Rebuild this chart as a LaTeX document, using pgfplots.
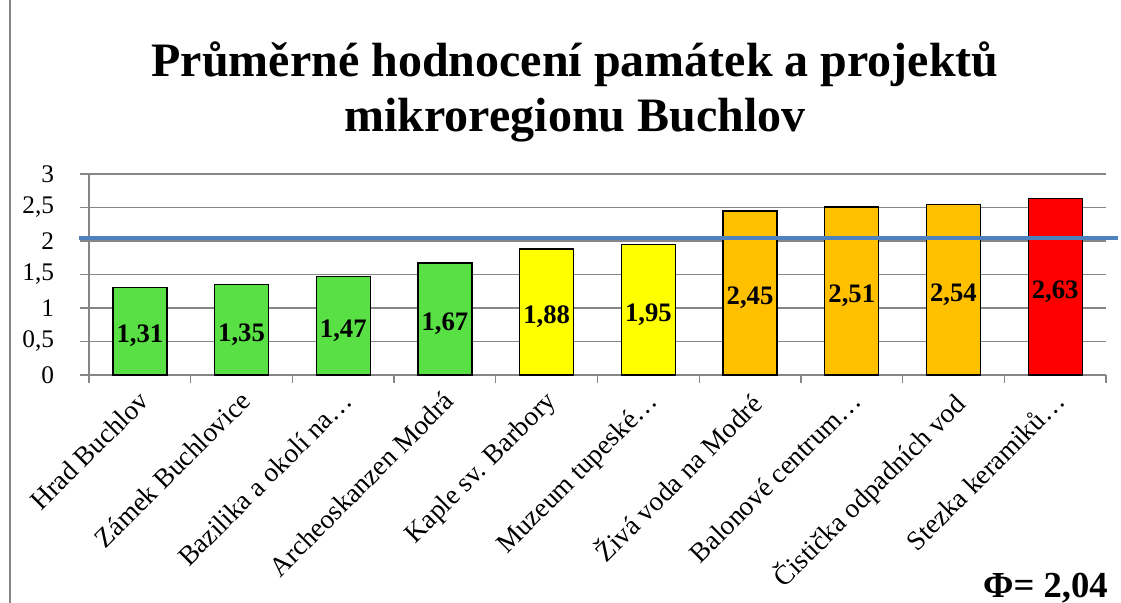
\documentclass[border=0pt]{standalone}
\usepackage{pgfplots}
\pgfplotsset{compat=1.18}
\usepackage{pgfplotstable}
\usepackage{fontspec}
\setmainfont{Liberation Serif}
\definecolor{cgreen}{RGB}{88,224,68}
\definecolor{cyellow}{RGB}{255,255,0}
\definecolor{corange}{RGB}{255,192,0}
\definecolor{cred}{RGB}{255,0,0}
\definecolor{cblue}{RGB}{79,129,189}
\definecolor{cgrid}{RGB}{134,134,134}

\pgfplotstableread{
x v
0 1.31
1 1.35
2 1.47
3 1.67
}\tgreen
\pgfplotstableread{
x v
4 1.88
5 1.95
}\tyellow
\pgfplotstableread{
x v
6 2.45
7 2.51
8 2.54
}\torange
\pgfplotstableread{
x v
9 2.63
}\tred

\begin{document}
\begin{tikzpicture}
\begin{axis}[
  scale only axis,
  width=762.75pt, height=150.75pt,
  at={(0,0)}, anchor=south west,
  xmin=-0.5, xmax=9.5,
  ymin=0, ymax=3,
  ytick={0,0.5,...,3},
  yticklabels={0,{0,5},1,{1,5},2,{2,5},3},
  ymajorgrids=true,
  grid style={cgrid, line width=1pt},
  axis x line=bottom, axis y line=left,
  axis line style={-, cgrid, line width=1pt},
  tick style={cgrid, line width=1pt},
  tick align=outside,
  major tick length=7pt,
  minor tick length=6pt,
  xtick={0,...,9},
  major x tick style={draw=none},
  minor xtick={-0.5,0.5,...,9.5},
  xticklabels={Hrad Buchlov, Zámek Buchlovice, Bazilika a okolí na…, Archeoskanzen Modrá, Kaple sv. Barbory, Muzeum tupeské…, Živá voda na Modré, Balonové centrum…, Čistička odpadních vod, Stezka keramiků…},
  xticklabel style={rotate=45, anchor=north east, font=\fontsize{20.5}{20.5}\selectfont, inner sep=0pt, xshift=-4pt, yshift=-1pt},
  yticklabel style={font=\fontsize{19}{19}\selectfont, inner sep=0pt, xshift=-19pt},
  ybar, bar width=40.5pt, bar shift=0pt,
  clip=false,
]
\addplot[fill=cgreen, draw=black, line width=1pt] table[x=x,y=v]{\tgreen};
\addplot[fill=cyellow, draw=black, line width=1pt] table[x=x,y=v]{\tyellow};
\addplot[fill=corange, draw=black, line width=1pt] table[x=x,y=v]{\torange};
\addplot[fill=cred, draw=black, line width=1pt] table[x=x,y=v]{\tred};

\pgfplotsset{lbl/.style={draw=none, fill=none, mark=none, point meta=explicit,
  nodes near coords={\pgfmathprintnumber[use comma,fixed,fixed zerofill,precision=2,assume math mode=true]{\pgfplotspointmeta}},
  every node near coord/.append style={anchor=center, yshift=-3.5pt, font=\fontsize{20}{20}\selectfont\bfseries, text=black}}}
\addplot[lbl] table[x=x, y expr=\thisrow{v}/2, meta=v]{\tgreen};
\addplot[lbl] table[x=x, y expr=\thisrow{v}/2, meta=v]{\tyellow};
\addplot[lbl] table[x=x, y expr=\thisrow{v}/2, meta=v]{\torange};
\addplot[lbl] table[x=x, y expr=\thisrow{v}/2, meta=v]{\tred};

\addplot[sharp plot, cblue, line width=3pt, mark=none] coordinates {(-0.598,2.05) (9.62,2.05)};
\end{axis}
\draw[cgrid, line width=1.1pt] (-59.25pt,-171pt) -- (-59.25pt,281.25pt);
\node[anchor=base, font=\fontsize{36}{36}\selectfont\bfseries, inner sep=0pt] at (364.5pt,224pt) {Průměrné hodnocení památek a projektů};
\node[anchor=base, font=\fontsize{36}{36}\selectfont\bfseries, inner sep=0pt] at (364.5pt,182.75pt) {mikroregionu Buchlov};
\node[anchor=base east, font=\fontsize{27.5}{27.5}\selectfont\bfseries, inner sep=0pt] at (764.25pt,-166.5pt) {Φ= 2,04};
\pgfresetboundingbox
\path (-66.75pt,-171pt) rectangle (774pt,281.25pt);
\end{tikzpicture}
\end{document}
